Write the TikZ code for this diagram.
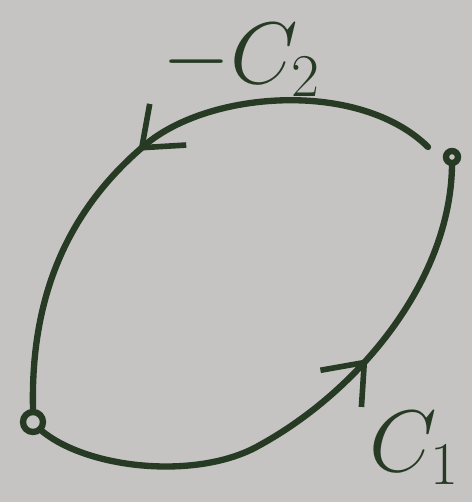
\documentclass[tikz,border=0pt]{standalone}
\usepackage{xcolor}
\usepackage{tikz}
\usetikzlibrary{arrows.meta,decorations.markings}

\definecolor{paper}{RGB}{198,196,195}
\definecolor{ink}{RGB}{38,58,36}

\begin{document}
\begin{tikzpicture}[
  curve/.style={draw=ink, line width=1.8pt, line cap=round},
  pt/.style={circle, draw=ink, line width=1.8pt, inner sep=0pt},
  lab/.style={text=ink, font=\fontsize{24}{28}\selectfont},
  mid/.style={postaction={decorate, decoration={markings,
      mark=at position #1 with {\arrow[ink, line width=1.6pt]{Straight Barb[length=3.5mm,width=5.5mm]}}}}}
]
\fill[paper] (0,0) rectangle (4.72,-5.02);
\useasboundingbox (0,0) rectangle (4.72,-5.02);

\node[pt, minimum size=2mm] (a) at (0.33,-4.22) {};
\node[pt, minimum size=1.2mm] (b) at (4.52,-1.57) {};
\coordinate (top) at (1.45,-1.45);
\coordinate (low) at (2.6,-4.45);

% upper arc, traversed from b to a
\draw[curve, mid=0.52] (4.28,-1.47) .. controls (3.6,-0.8) and (2.1,-0.9) .. (top)
  .. controls (0.8,-2.0) and (0.3,-2.8) .. (a.north);
% lower arc, from a to b
\draw[curve, mid=0.63] (a.south east) .. controls (0.9,-4.7) and (2.0,-4.8) .. (low)
  .. controls (3.6,-3.9) and (4.5,-2.8) .. (b.south);

\node[lab] (c2) at (2.42,-0.6) {$-C_2$};
\node[lab] (c1) at (4.15,-4.48) {$C_1$};
\end{tikzpicture}
\end{document}
